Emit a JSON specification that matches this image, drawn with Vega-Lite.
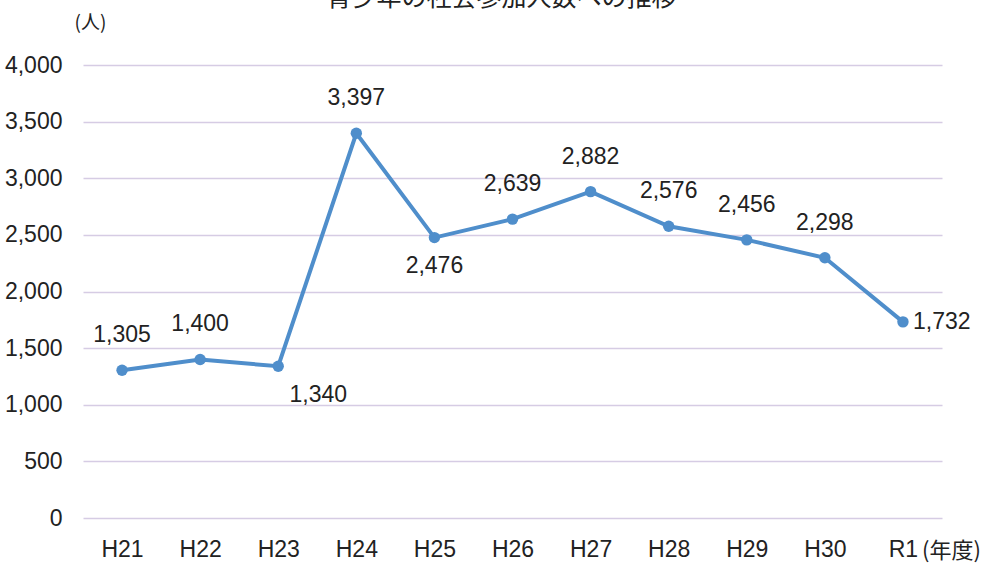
{
  "$schema": "https://vega.github.io/schema/vega-lite/v6.json",
  "width": 859,
  "height": 453,
  "autosize": "none",
  "padding": {"left": 83, "top": 65, "right": 61, "bottom": 46},
  "background": "white",
  "title": {
    "text": "青少年の社会参加人数への推移",
    "font": "Noto Sans CJK JP",
    "fontSize": 25,
    "fontWeight": "normal",
    "color": "#222222",
    "anchor": "middle",
    "baseline": "bottom",
    "offset": 0,
    "dy": 23,
    "dx": -11
  },
  "config": {
    "view": {"stroke": null},
    "font": "Liberation Sans"
  },
  "data": {
    "values": [
      {"year": "H21", "value": 1305, "pos": "above"},
      {"year": "H22", "value": 1400, "pos": "above"},
      {"year": "H23", "value": 1340, "pos": "belowright"},
      {"year": "H24", "value": 3397, "pos": "above"},
      {"year": "H25", "value": 2476, "pos": "below"},
      {"year": "H26", "value": 2639, "pos": "above"},
      {"year": "H27", "value": 2882, "pos": "above"},
      {"year": "H28", "value": 2576, "pos": "above"},
      {"year": "H29", "value": 2456, "pos": "above"},
      {"year": "H30", "value": 2298, "pos": "above"},
      {"year": "R1", "value": 1732, "pos": "right"}
    ]
  },
  "encoding": {
    "x": {
      "field": "year",
      "type": "ordinal",
      "sort": null,
      "scale": {"type": "point", "padding": 0.5},
      "axis": {
        "title": "(年度)",
        "titleFont": "Noto Sans CJK JP",
        "titleFontSize": 22,
        "titleFontWeight": "normal",
        "titleColor": "#222222",
        "titleX": 868,
        "titleY": 32,
        "titleAlign": "center",
        "titleBaseline": "middle",
        "labelAngle": 0,
        "labelFontSize": 23,
        "labelColor": "#222222",
        "labelPadding": 20,
        "domain": false,
        "ticks": false,
        "grid": false
      }
    },
    "y": {
      "field": "value",
      "type": "quantitative",
      "scale": {"domain": [0, 4000]},
      "axis": {
        "title": "(人)",
        "titleFont": "Noto Sans CJK JP",
        "titleFontSize": 19,
        "titleFontWeight": "normal",
        "titleColor": "#222222",
        "titleAngle": 0,
        "titleX": 7,
        "titleY": -43,
        "titleAlign": "center",
        "titleBaseline": "middle",
        "values": [0, 500, 1000, 1500, 2000, 2500, 3000, 3500, 4000],
        "format": ",d",
        "labelFontSize": 23,
        "labelColor": "#222222",
        "labelPadding": 21,
        "domain": false,
        "ticks": false,
        "gridColor": "#d6cce4",
        "gridWidth": 1.5
      }
    }
  },
  "layer": [
    {"mark": {"type": "line", "color": "#4f8ecb", "strokeWidth": 4}},
    {"mark": {"type": "point", "filled": true, "opacity": 1, "color": "#4f8ecb", "size": 130}},
    {
      "transform": [{"filter": "datum.pos === 'above'"}],
      "mark": {"type": "text", "dy": -35, "fontSize": 23, "color": "#222222", "baseline": "middle"},
      "encoding": {"text": {"field": "value", "type": "quantitative", "format": ",d"}}
    },
    {
      "transform": [{"filter": "datum.pos === 'below'"}],
      "mark": {"type": "text", "dy": 28, "fontSize": 23, "color": "#222222", "baseline": "middle"},
      "encoding": {"text": {"field": "value", "type": "quantitative", "format": ",d"}}
    },
    {
      "transform": [{"filter": "datum.pos === 'belowright'"}],
      "mark": {"type": "text", "dx": 40, "dy": 29, "fontSize": 23, "color": "#222222", "baseline": "middle"},
      "encoding": {"text": {"field": "value", "type": "quantitative", "format": ",d"}}
    },
    {
      "transform": [{"filter": "datum.pos === 'right'"}],
      "mark": {"type": "text", "dx": 10, "dy": 0, "align": "left", "fontSize": 23, "color": "#222222", "baseline": "middle"},
      "encoding": {"text": {"field": "value", "type": "quantitative", "format": ",d"}}
    }
  ]
}
